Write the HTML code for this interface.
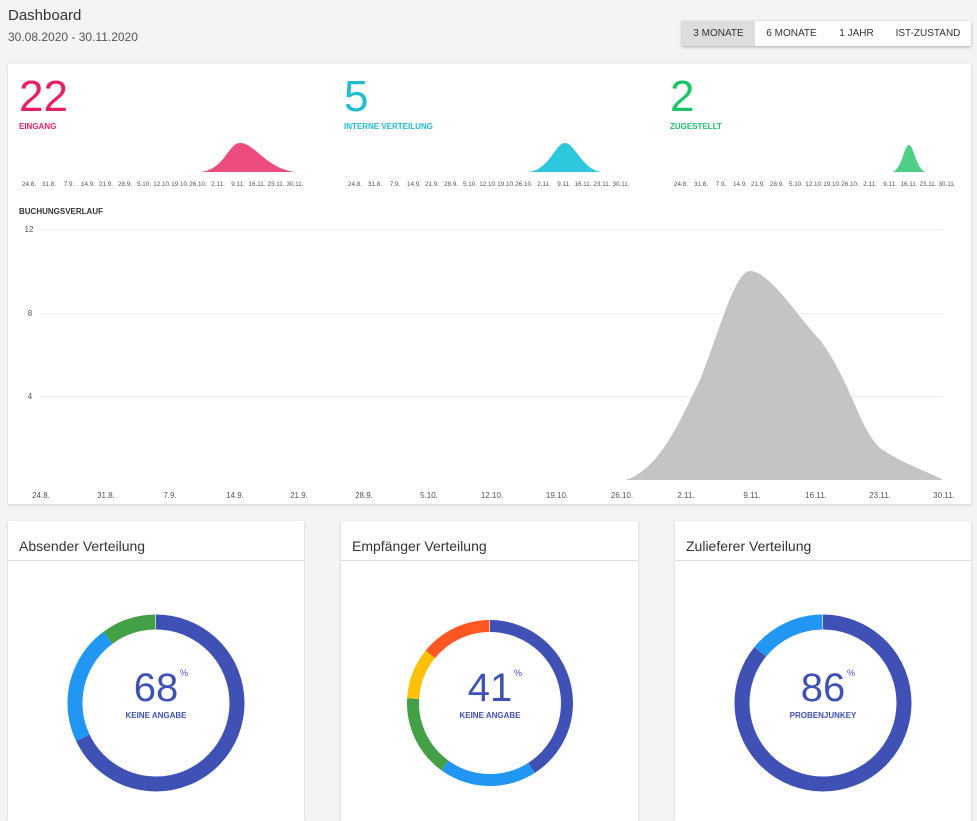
<!DOCTYPE html>
<html><head><meta charset="utf-8"><style>
*{margin:0;padding:0;box-sizing:border-box}
body{width:977px;height:800px;background:#f4f4f4;font-family:"Liberation Sans",sans-serif;position:relative;overflow:hidden;color:#333}
.abs{position:absolute}
.card{position:absolute;background:#fff;box-shadow:0 1px 3px rgba(0,0,0,.15)}
.btns{position:absolute;left:682px;top:21px;height:25px;width:289px;background:#fff;box-shadow:0 1px 3px rgba(0,0,0,.3);display:flex;font-size:10px;color:#333}
.btns div{display:flex;align-items:center;justify-content:center}
.big{position:absolute;font-size:44px;top:72px;line-height:50px}
.lbl{position:absolute;top:122px;font-size:8px;font-weight:bold}
.tick{position:absolute;font-size:6.5px;color:#555;white-space:nowrap}
.hdr{position:absolute;top:0;left:0;right:0;height:40px;border-bottom:1px solid #ddd;font-size:14px;padding:17px 0 0 11px;color:#333}
</style></head><body>
<div class="abs" style="left:8px;top:7px;font-size:15px;color:#333">Dashboard</div>
<div class="abs" style="left:8px;top:30px;font-size:12px;color:#555">30.08.2020 - 30.11.2020</div>
<div class="btns"><div style="width:73px;background:#ddd">3 MONATE</div><div style="width:73px">6 MONATE</div><div style="width:57px">1 JAHR</div><div style="width:86px">IST-ZUSTAND</div></div>

<div class="card" style="left:8px;top:64px;width:963px;height:440px"></div>
<div class="big" style="left:19px;color:#e91e63">22</div>
<div class="lbl" style="left:19px;color:#e91e63">EINGANG</div>
<div class="big" style="left:344px;color:#1fbcd2">5</div>
<div class="lbl" style="left:344px;color:#1fbcd2">INTERNE VERTEILUNG</div>
<div class="big" style="left:670px;color:#1ec46a">2</div>
<div class="lbl" style="left:670px;color:#1ec46a">ZUGESTELLT</div>
<svg class="abs" style="left:0;top:0" width="977" height="800">
<path d="M200 172 C225 170 228 143 240 143 C255 143 265 168 295 172 Z" fill="#ec4c7e"/>
<path d="M528 172 C550 170 555 143 565 143 C575 143 582 170 602 172 Z" fill="#2ec8de"/>
<path d="M892 172 C902 170 904 145 909 145 C914 145 916 170 926 172 Z" fill="#4ecf87"/>
<g stroke="#f0f0f0" stroke-width="1">
<line x1="40" y1="229.5" x2="943" y2="229.5"/><line x1="40" y1="313.5" x2="943" y2="313.5"/><line x1="40" y1="396.5" x2="943" y2="396.5"/>
</g>
<path d="M625 480 C660 470 680 420 700 380 C720 330 735 271 750 271 C770 271 800 320 820 340 C850 380 860 430 880 448 C905 465 925 470 943 480 Z" fill="#c4c4c4"/>
<g fill="#555" font-size="8">
<text x="29" y="232" text-anchor="middle">12</text><text x="30" y="316" text-anchor="middle">8</text><text x="30" y="399" text-anchor="middle">4</text>
</g>
<text x="19" y="214" font-size="8" font-weight="bold" fill="#333">BUCHUNGSVERLAUF</text>
<g fill="#555" font-size="8" text-anchor="middle">
<text x="41" y="498">24.8.</text><text x="106" y="498">31.8.</text><text x="170" y="498">7.9.</text><text x="235" y="498">14.9.</text><text x="299" y="498">21.9.</text><text x="364" y="498">28.9.</text><text x="429" y="498">5.10.</text><text x="492" y="498">12.10.</text><text x="557" y="498">19.10.</text><text x="622" y="498">26.10.</text><text x="686" y="498">2.11.</text><text x="752" y="498">9.11.</text><text x="816" y="498">16.11.</text><text x="880" y="498">23.11.</text><text x="944" y="498">30.11.</text>
</g>
<g fill="#555" font-size="6.3" text-anchor="middle" id="sp">
<text x="29" y="186">24.8.</text><text x="49" y="186">31.8.</text><text x="69" y="186">7.9.</text><text x="88" y="186">14.9.</text><text x="106" y="186">21.9.</text><text x="125" y="186">28.9.</text><text x="144" y="186">5.10.</text><text x="162" y="186">12.10.</text><text x="180" y="186">19.10.</text><text x="198" y="186">26.10.</text><text x="218" y="186">2.11.</text><text x="238" y="186">9.11.</text><text x="257" y="186">16.11.</text><text x="276" y="186">23.11.</text><text x="295" y="186">30.11.</text>
</g>
<use href="#sp" x="326"/><use href="#sp" x="652"/>
</svg>

<div class="card" style="left:8px;top:521px;width:296px;height:300px"><div class="hdr">Absender Verteilung</div></div>
<div class="card" style="left:341px;top:521px;width:297px;height:300px"><div class="hdr">Empfänger Verteilung</div></div>
<div class="card" style="left:675px;top:521px;width:296px;height:300px"><div class="hdr">Zulieferer Verteilung</div></div>

<svg class="abs" style="left:0;top:0" width="977" height="800">
<g transform="translate(156,703) rotate(-90)" fill="none" stroke-width="15">
<circle r="81" stroke="#3f51b5" pathLength="100" stroke-dasharray="68 100"/>
<circle r="81" stroke="#2196f3" pathLength="100" stroke-dasharray="22 100" stroke-dashoffset="-68"/>
<circle r="81" stroke="#43a047" pathLength="100" stroke-dasharray="10 100" stroke-dashoffset="-90"/>
</g>
<g transform="translate(490,703) rotate(-90)" fill="none" stroke-width="12">
<circle r="77" stroke="#3f51b5" pathLength="100" stroke-dasharray="41 100"/>
<circle r="77" stroke="#2196f3" pathLength="100" stroke-dasharray="19 100" stroke-dashoffset="-41"/>
<circle r="77" stroke="#43a047" pathLength="100" stroke-dasharray="16 100" stroke-dashoffset="-60"/>
<circle r="77" stroke="#ffc107" pathLength="100" stroke-dasharray="10 100" stroke-dashoffset="-76"/>
<circle r="77" stroke="#ff5722" pathLength="100" stroke-dasharray="14 100" stroke-dashoffset="-86"/>
</g>
<g transform="translate(823,703) rotate(-90)" fill="none" stroke-width="15">
<circle r="81" stroke="#3f51b5" pathLength="100" stroke-dasharray="86 100"/>
<circle r="81" stroke="#2196f3" pathLength="100" stroke-dasharray="14 100" stroke-dashoffset="-86"/>
</g>
<g fill="#3f51b5" text-anchor="middle">
<text x="156" y="701" font-size="40">68</text><text x="184" y="676" font-size="9">%</text><text x="156" y="718" font-size="8" font-weight="bold">KEINE ANGABE</text>
<text x="490" y="701" font-size="40">41</text><text x="518" y="676" font-size="9">%</text><text x="490" y="718" font-size="8" font-weight="bold">KEINE ANGABE</text>
<text x="823" y="701" font-size="40">86</text><text x="851" y="676" font-size="9">%</text><text x="823" y="718" font-size="8" font-weight="bold">PROBENJUNKEY</text>
</g>
</svg>
</body></html>
